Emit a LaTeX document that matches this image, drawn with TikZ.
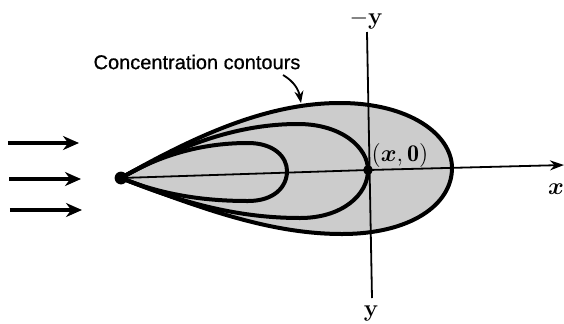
\documentclass[tikz,border=0pt]{standalone}
\usepackage{amsmath}
\usepackage{fontspec}
\setsansfont{Liberation Sans}
\newfontfamily\labfont[FakeBold=0.6]{Liberation Sans}
\usetikzlibrary{arrows.meta}
\begin{document}
\begin{tikzpicture}[x=0.5pt,y=-0.5pt,
  contour/.style={line width=2pt,line join=round},
  axisline/.style={line width=0.9pt},
  flowarrow/.style={line width=1.8pt,-{Stealth[length=8pt,width=7pt]}},
  lbl/.style={inner sep=1pt,font=\large\bfseries}]
\useasboundingbox (0,0) rectangle (564,323);
% points
\coordinate (S) at (121,178);
\coordinate (P) at (368,170);
\coordinate (XE) at (564,165);
\coordinate (YT) at (367,32);
\coordinate (YB) at (372,298);
% shaded outer region
\fill[black!20] (S) .. controls (200,133) and (270,103) .. (340,103)
  .. controls (410,103) and (452,135) .. (452,168)
  .. controls (452,205) and (410,234) .. (342,234)
  .. controls (270,234) and (200,208) .. (S) -- cycle;
% axes
\draw[axisline] (S) -- (P);
\draw[axisline,-{Stealth[length=7pt,width=5pt]}] (P) -- (XE);
\draw[axisline] (YT) -- (YB);
% contours
\draw[contour] (S) .. controls (200,133) and (270,103) .. (340,103)
  .. controls (410,103) and (452,135) .. (452,168)
  .. controls (452,205) and (410,234) .. (342,234)
  .. controls (270,234) and (200,208) .. (S);
\draw[contour] (S) .. controls (185,143) and (240,124) .. (298,124)
  .. controls (342,124) and (368,148) .. (P)
  .. controls (368,195) and (342,218) .. (300,218)
  .. controls (240,218) and (185,204) .. (S);
\draw[contour] (S) .. controls (165,152) and (208,143) .. (248,143)
  .. controls (274,143) and (287,157) .. (287,171)
  .. controls (287,187) and (274,201) .. (248,201)
  .. controls (208,201) and (165,196) .. (S);
% dots
\fill (S) circle (3.2pt);
\fill (P) circle (2.4pt);
% flow arrows
\coordinate (a1s) at (8,143);  \coordinate (a1e) at (79,143);
\coordinate (a2s) at (9,179);  \coordinate (a2e) at (81,179);
\coordinate (a3s) at (10,210); \coordinate (a3e) at (82,210);
\draw[flowarrow] (a1s) -- (a1e);
\draw[flowarrow] (a2s) -- (a2e);
\draw[flowarrow] (a3s) -- (a3e);
% labels
\node[font=\labfont\fontsize{10}{12}\selectfont] (lab) at (197,62) {Concentration contours};
\coordinate (lstart) at (283,75);
\coordinate (c) at (301,103);
\draw[line width=0.9pt,-{Stealth[length=6pt,width=4.5pt]}] (lstart) to[out=-30,in=100] (c);
\node[lbl] (pxlabel) at (400,155) {$\mathbf{(}\boldsymbol{x}\mathbf{,0)}$};
\node[lbl] (mylabel) at (366,20) {$\mathbf{-}$y};
\node[lbl] (ylabel) at (371,314) {y};
\node[lbl] (xlabel) at (556,189) {$\boldsymbol{x}$};
\end{tikzpicture}
\end{document}
